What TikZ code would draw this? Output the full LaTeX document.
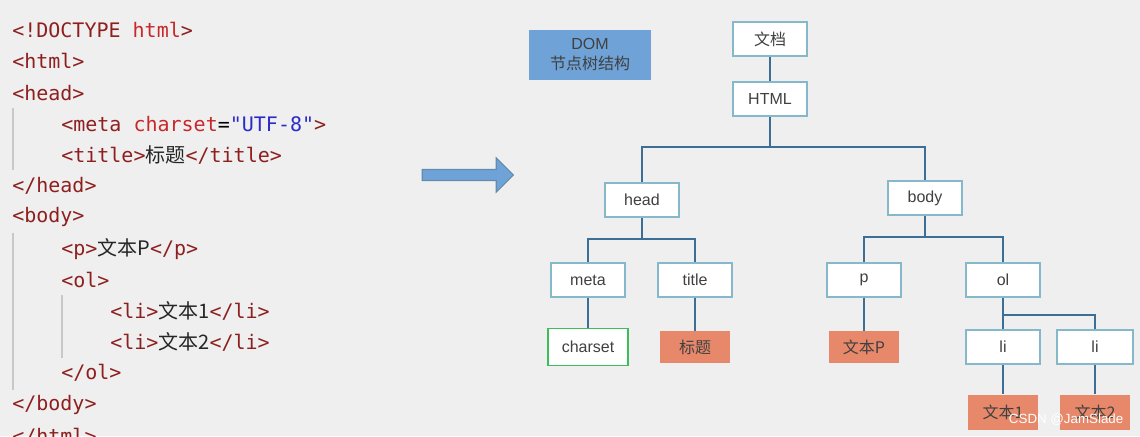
\documentclass[tikz,border=0pt]{standalone}
\usepackage{fontspec}
\setmainfont{Liberation Sans}
\setmonofont{DejaVu Sans Mono}
\newfontfamily\cjk{Noto Sans CJK SC}
\usetikzlibrary{shapes.arrows}
\definecolor{bg}{HTML}{EFEFEF}
\definecolor{bx}{HTML}{86B8CC}
\definecolor{ln}{HTML}{3C6E96}
\definecolor{org}{HTML}{E8886A}
\definecolor{grn}{HTML}{3DBE5A}
\definecolor{dom}{HTML}{6FA3D8}
\definecolor{tagc}{HTML}{8E1F1F}
\definecolor{atc}{HTML}{C8282A}
\definecolor{strc}{HTML}{2B2BC8}
\definecolor{guide}{HTML}{C8C8C8}
\tikzset{
 tn/.style={draw=bx,line width=1.2pt,fill=white!97!bg,minimum width=74*0.75pt,minimum height=34*0.75pt,font=\fontsize{12}{14}\selectfont,text=black!75,inner sep=0pt},
 tx/.style={fill=org,minimum width=70*0.75pt,minimum height=32*0.75pt,font=\fontsize{12}{14}\selectfont\cjk,text=black!75,inner sep=0pt},
 cl/.style={anchor=west,font=\ttfamily\fontsize{15}{17}\selectfont,text=tagc,inner sep=0pt},
 conn/.style={draw=ln,line width=1.3pt}
}
\newcommand{\zh}[1]{{\cjk\color{black!85}#1}}
\begin{document}
\begin{tikzpicture}[x=0.75pt,y=-0.75pt]
\fill[bg] (0,0) rectangle (1140,436);
\useasboundingbox (0,0) rectangle (1140,436);
% code
\draw[guide,line width=1pt] (13,108) -- (13,170);
\draw[guide,line width=1pt] (13,233) -- (13,390);
\draw[guide,line width=1pt] (62,295) -- (62,358);
\node[cl] (c1) at (12,30) {<!DOCTYPE \textcolor{atc}{html}>};
\node[cl] (c2) at (12,61) {<html>};
\node[cl] (c3) at (12,93) {<head>};
\node[cl] (c4) at (61,124) {<meta \textcolor{atc}{charset}\textcolor{black}{=}\textcolor{strc}{"UTF-8"}>};
\node[cl] (c5) at (61,155) {<title>\zh{标题}</title>};
\node[cl] (c6) at (12,186) {</head>};
\node[cl] (c7) at (12,217) {<body>};
\node[cl] (c8) at (61,249) {<p>\zh{文本P}</p>};
\node[cl] (c9) at (61,280) {<ol>};
\node[cl] (c10) at (110,311) {<li>\zh{文本1}</li>};
\node[cl] (c11) at (110,342) {<li>\zh{文本2}</li>};
\node[cl] (c12) at (61,373) {</ol>};
\node[cl] (c13) at (12,405) {</body>};
\node[cl,anchor=north west] (c14) at (12,428) {</html>};
% arrow
\node[single arrow,fill=dom,draw=ln!80,line width=0.8pt,minimum height=91*0.75pt,minimum width=34*0.75pt,single arrow head extend=5pt,inner sep=2pt] (arr) at (465,175) {};
% DOM label
\node[fill=dom,minimum width=122*0.75pt,minimum height=50*0.75pt,align=center,font=\fontsize{12}{15}\selectfont,text=black!75,inner sep=0pt] (dom) at (590,55) {DOM\\{\cjk 节点树结构}};
% tree
\node[tn,font=\fontsize{12}{14}\selectfont\cjk] (doc) at (770,39) {文档};
\node[tn] (html) at (770,99) {HTML};
\node[tn] (head) at (642,200) {head};
\node[tn] (body) at (925,198) {body};
\node[tn] (meta) at (588,280) {meta};
\node[tn] (title) at (695,280) {title};
\node[tn] (p) at (864,280) {p};
\node[tn] (ol) at (1003,280) {ol};
\node[tn,draw=grn,minimum width=80*0.75pt,minimum height=37*0.75pt] (cs) at (588,347) {charset};
\node[tx] (bt) at (695,347) {标题};
\node[tx] (tp) at (864,347) {文本P};
\node[tn] (li1) at (1003,347) {li};
\node[tn,minimum width=76*0.75pt] (li2) at (1095,347) {li};
\node[tx,minimum height=35*0.75pt] (t1) at (1003,412) {文本1};
\node[tx,minimum height=35*0.75pt] (t2) at (1095,412) {文本2};
\draw[conn] (doc) -- (html);
\draw[conn] (html) -- (770,147) -| (head);
\draw[conn] (770,147) -| (body);
\draw[conn] (head) -- (642,239) -| (meta);
\draw[conn] (642,239) -| (title);
\draw[conn] (body) -- (925,237) -| (p);
\draw[conn] (925,237) -| (ol);
\draw[conn] (meta) -- (cs);
\draw[conn] (title) -- (bt);
\draw[conn] (p) -- (tp);
\draw[conn] (ol) -- (li1);
\draw[conn] (1003,315) -| (li2);
\draw[conn] (li1) -- (t1);
\draw[conn] (li2) -- (t2);
\node[font=\fontsize{10}{12}\selectfont,text=white,anchor=east] (wm) at (1128,420) {CSDN @JamSlade};
\end{tikzpicture}
\end{document}
